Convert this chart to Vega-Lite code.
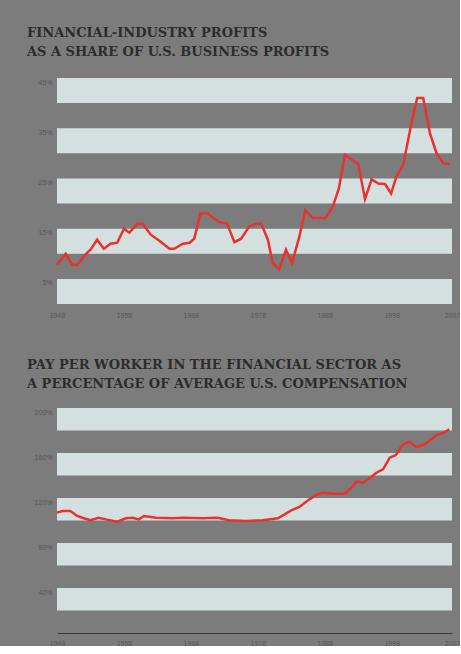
{
  "$schema": "https://vega.github.io/schema/vega-lite/v6.json",
  "background": "#7c7c7c",
  "padding": {"left": 27, "top": 27, "right": 0, "bottom": 0},
  "autosize": {"type": "pad"},
  "spacing": 41,
  "config": {
    "view": {"stroke": null},
    "axis": {
      "labelFont": "Liberation Sans",
      "labelFontSize": 7,
      "labelColor": "#575757",
      "ticks": false,
      "domain": false,
      "grid": false,
      "title": null
    },
    "title": {
      "font": "DejaVu Serif",
      "fontWeight": "bold",
      "fontSize": 13,
      "color": "#2c2c2c",
      "anchor": "start",
      "frame": "group",
      "dx": -30,
      "lineHeight": 19,
      "offset": 19
    }
  },
  "datasets": {
    "bands1": [
      {"lo": 0, "hi": 5}, {"lo": 10, "hi": 15}, {"lo": 20, "hi": 25}, {"lo": 30, "hi": 35}, {"lo": 40, "hi": 45}
    ],
    "bands2": [
      {"lo": 20, "hi": 40}, {"lo": 60, "hi": 80}, {"lo": 100, "hi": 120}, {"lo": 140, "hi": 160}, {"lo": 180, "hi": 200}
    ],
    "profits": [
      {"year": 1948, "share": 7.8}, {"year": 1949.3, "share": 10.0}, {"year": 1950.3, "share": 7.8},
      {"year": 1951.1, "share": 7.8}, {"year": 1952.2, "share": 9.8}, {"year": 1953, "share": 10.8},
      {"year": 1954, "share": 12.8}, {"year": 1955, "share": 11.0}, {"year": 1956, "share": 12.0},
      {"year": 1957, "share": 12.2}, {"year": 1958, "share": 15.0}, {"year": 1958.8, "share": 14.2},
      {"year": 1960, "share": 16.0}, {"year": 1960.8, "share": 16.0}, {"year": 1962, "share": 13.8},
      {"year": 1963.3, "share": 12.6}, {"year": 1964.8, "share": 11.0}, {"year": 1965.5, "share": 11.0},
      {"year": 1966.8, "share": 12.0}, {"year": 1967.8, "share": 12.2}, {"year": 1968.5, "share": 13.0},
      {"year": 1969.4, "share": 18.0}, {"year": 1970.5, "share": 18.0}, {"year": 1972.2, "share": 16.3},
      {"year": 1973.4, "share": 16.0}, {"year": 1974.5, "share": 12.3}, {"year": 1975.5, "share": 13.0},
      {"year": 1976.7, "share": 15.4}, {"year": 1977.7, "share": 16.0}, {"year": 1978.5, "share": 16.0},
      {"year": 1979.5, "share": 12.8}, {"year": 1980.2, "share": 8.2}, {"year": 1981.2, "share": 6.9},
      {"year": 1982.2, "share": 10.8}, {"year": 1983.1, "share": 8.1}, {"year": 1984.2, "share": 13.4},
      {"year": 1985.1, "share": 18.7}, {"year": 1986.2, "share": 17.1}, {"year": 1988.1, "share": 17.1},
      {"year": 1989.2, "share": 19.4}, {"year": 1990.1, "share": 23.0}, {"year": 1991, "share": 29.7},
      {"year": 1993, "share": 27.9}, {"year": 1994, "share": 20.9}, {"year": 1995, "share": 24.8},
      {"year": 1996, "share": 24.0}, {"year": 1997, "share": 23.9}, {"year": 1997.9, "share": 22.0},
      {"year": 1998.7, "share": 25.4}, {"year": 1999.7, "share": 27.7}, {"year": 2000.9, "share": 35.7},
      {"year": 2001.8, "share": 41.0}, {"year": 2002.7, "share": 41.0}, {"year": 2003.7, "share": 34.0},
      {"year": 2004.7, "share": 30.0}, {"year": 2005.7, "share": 28.0}, {"year": 2006.7, "share": 27.9}
    ],
    "pay": [
      {"year": 1948, "pct": 107}, {"year": 1948.8, "pct": 108.4}, {"year": 1950, "pct": 108.4},
      {"year": 1951, "pct": 104}, {"year": 1952, "pct": 102}, {"year": 1953, "pct": 100.2},
      {"year": 1954.2, "pct": 102.5}, {"year": 1955.3, "pct": 101}, {"year": 1957, "pct": 99},
      {"year": 1958.3, "pct": 102}, {"year": 1959.3, "pct": 102.5}, {"year": 1960.2, "pct": 101},
      {"year": 1961, "pct": 104}, {"year": 1962.8, "pct": 102.5}, {"year": 1965.3, "pct": 102},
      {"year": 1966.8, "pct": 102.5}, {"year": 1969.8, "pct": 102}, {"year": 1972, "pct": 102.5},
      {"year": 1973.7, "pct": 100.2}, {"year": 1976.2, "pct": 99.6}, {"year": 1978.7, "pct": 100.2},
      {"year": 1981, "pct": 102}, {"year": 1982, "pct": 105.5}, {"year": 1983, "pct": 109},
      {"year": 1984.2, "pct": 112}, {"year": 1985.7, "pct": 118.8}, {"year": 1986.7, "pct": 122.7},
      {"year": 1987.7, "pct": 124.7}, {"year": 1989.2, "pct": 123.8}, {"year": 1991, "pct": 123.8},
      {"year": 1992, "pct": 129.2}, {"year": 1992.7, "pct": 134.5}, {"year": 1993.7, "pct": 133.6},
      {"year": 1994.7, "pct": 137.5}, {"year": 1995.7, "pct": 142.5}, {"year": 1996.7, "pct": 145.5},
      {"year": 1997.7, "pct": 155.8}, {"year": 1998.6, "pct": 158.2}, {"year": 1999.6, "pct": 167.1},
      {"year": 2000.6, "pct": 170}, {"year": 2001.7, "pct": 165.3}, {"year": 2002.7, "pct": 167.1},
      {"year": 2003.7, "pct": 171.3}, {"year": 2004.7, "pct": 176}, {"year": 2005.7, "pct": 178},
      {"year": 2006.6, "pct": 181}
    ]
  },
  "vconcat": [
    {
      "width": 395,
      "height": 226,
      "title": {"text": ["FINANCIAL-INDUSTRY PROFITS", "AS A SHARE OF U.S. BUSINESS PROFITS"]},
      "layer": [
        {
          "data": {"name": "bands1"},
          "mark": {"type": "rect", "color": "#d4e0df"},
          "encoding": {
            "y": {"field": "lo", "type": "quantitative", "scale": {"domain": [0, 45], "nice": false},
                  "axis": {"values": [5, 15, 25, 35, 45], "labelExpr": "datum.value + '%'", "labelBaseline": "top", "labelPadding": 5, "minExtent": 30, "maxExtent": 30}},
            "y2": {"field": "hi"}
          }
        },
        {
          "data": {"name": "profits"},
          "mark": {"type": "line", "color": "#e8322b", "strokeWidth": 2.5},
          "encoding": {
            "x": {"field": "year", "type": "quantitative", "scale": {"domain": [1948, 2007], "nice": false, "zero": false},
                  "axis": {"values": [1948, 1958, 1968, 1978, 1988, 1998, 2007], "format": "d", "labelFlush": false, "labelOverlap": false, "labelPadding": 7}},
            "y": {"field": "share", "type": "quantitative"}
          }
        }
      ]
    },
    {
      "width": 395,
      "height": 225,
      "title": {"text": ["PAY PER WORKER IN THE FINANCIAL SECTOR AS", "A PERCENTAGE OF AVERAGE U.S. COMPENSATION"], "offset": 17},
      "layer": [
        {
          "data": {"name": "bands2"},
          "mark": {"type": "rect", "color": "#d4e0df"},
          "encoding": {
            "y": {"field": "lo", "type": "quantitative", "scale": {"domain": [0, 200], "nice": false},
                  "axis": {"values": [40, 80, 120, 160, 200], "labelExpr": "datum.value + '%'", "labelBaseline": "top", "labelPadding": 5, "minExtent": 30, "maxExtent": 30}},
            "y2": {"field": "hi"}
          }
        },
        {
          "data": {"name": "pay"},
          "mark": {"type": "line", "color": "#e8322b", "strokeWidth": 2.5},
          "encoding": {
            "x": {"field": "year", "type": "quantitative", "scale": {"domain": [1948, 2007], "nice": false, "zero": false},
                  "axis": {"values": [1948, 1958, 1968, 1978, 1988, 1998, 2007], "format": "d", "labelFlush": false, "labelOverlap": false, "labelPadding": 6, "domain": true, "domainColor": "#3a3a3a", "domainWidth": 1}},
            "y": {"field": "pct", "type": "quantitative"}
          }
        }
      ]
    }
  ]
}
